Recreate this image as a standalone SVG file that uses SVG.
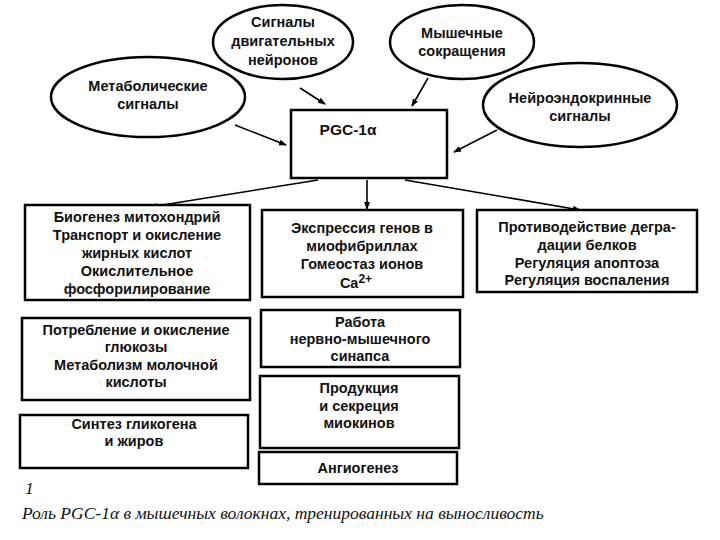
<svg xmlns="http://www.w3.org/2000/svg" width="720" height="540" viewBox="0 0 720 540">
<style>
.s{fill:#fff;stroke:#000;stroke-width:2.5}
.c{stroke:#000;stroke-width:1.6;fill:none;marker-end:url(#a)}
text{font-family:"Liberation Sans",Arial,sans-serif;font-weight:bold;font-size:14.5px;text-anchor:middle;fill:#111}
.cap{font-family:"Liberation Serif","Times New Roman",serif;font-weight:normal;font-style:italic;font-size:17.5px;text-anchor:start}
</style>
<defs><marker id="a" markerWidth="8" markerHeight="8" refX="7" refY="4" orient="auto" markerUnits="userSpaceOnUse"><path d="M0,1 L8,4 L0,7 Z" fill="#000"/></marker></defs>
<rect width="720" height="540" fill="#fff"/>
<g id="connectors">
<line class="c" x1="300" y1="88" x2="325" y2="104"/>
<line class="c" x1="428" y1="78" x2="412" y2="106"/>
<line class="c" x1="235" y1="125" x2="286" y2="145"/>
<line class="c" x1="497" y1="130" x2="454" y2="152"/>
<line class="c" x1="318" y1="180" x2="150" y2="207"/>
<line class="c" x1="367" y1="180" x2="367" y2="209"/>
<line class="c" x1="405" y1="180" x2="580" y2="210"/>
</g>
<g id="e1"><ellipse class="s" cx="283" cy="42" rx="70" ry="37"/><text x="283" y="27">Сигналы</text><text x="283" y="46">двигательных</text><text x="283" y="65">нейронов</text></g>
<g id="e2"><ellipse class="s" cx="462" cy="42" rx="72" ry="37"/><text x="462" y="38">Мышечные</text><text x="462" y="56">сокращения</text></g>
<g id="e3"><ellipse class="s" cx="148" cy="97" rx="97" ry="40"/><text x="148" y="91">Метаболические</text><text x="148" y="109">сигналы</text></g>
<g id="e4"><ellipse class="s" cx="580" cy="105" rx="97" ry="42"/><text x="580" y="103">Нейроэндокринные</text><text x="580" y="121">сигналы</text></g>
<g id="pgc"><rect class="s" x="291" y="110" width="156" height="68"/><text x="348" y="135" style="font-size:15.5px">PGC-1α</text></g>
<g id="b1"><rect class="s" x="25" y="205" width="225" height="95"/><text x="137" y="222">Биогенез митохондрий</text><text x="137" y="240">Транспорт и окисление</text><text x="137" y="258">жирных кислот</text><text x="137" y="276">Окислительное</text><text x="137" y="294">фосфорилирование</text></g>
<g id="b2"><rect class="s" x="22" y="318" width="228" height="82"/><text x="136" y="335">Потребление и окисление</text><text x="136" y="352">глюкозы</text><text x="136" y="370">Метаболизм молочной</text><text x="136" y="387">кислоты</text></g>
<g id="b3"><rect class="s" x="20" y="415" width="228" height="53"/><text x="134" y="429">Синтез гликогена</text><text x="134" y="446">и жиров</text></g>
<g id="m1"><rect class="s" x="262" y="210" width="201" height="87"/><text x="362" y="233">Экспрессия генов в</text><text x="362" y="251">миофибриллах</text><text x="362" y="269">Гомеостаз ионов</text><text x="356" y="288">Ca<tspan font-size="12" dy="-5">2+</tspan></text></g>
<g id="m2"><rect class="s" x="261" y="310" width="199" height="57"/><text x="360" y="327">Работа</text><text x="360" y="344">нервно-мышечного</text><text x="360" y="361">синапса</text></g>
<g id="m3"><rect class="s" x="260" y="376" width="199" height="72"/><text x="359" y="393">Продукция</text><text x="359" y="411">и секреция</text><text x="359" y="428">миокинов</text></g>
<g id="m4"><rect class="s" x="259" y="452" width="198" height="32"/><text x="358" y="473">Ангиогенез</text></g>
<g id="r1"><rect class="s" x="477" y="210" width="220" height="82"/><text x="587" y="232">Противодействие дегра-</text><text x="587" y="250">дации белков</text><text x="587" y="268">Регуляция апоптоза</text><text x="587" y="285">Регуляция воспаления</text></g>
<text class="cap" x="25" y="494">1</text>
<text class="cap" x="22" y="519">Роль PGC-1α в мышечных волокнах, тренированных на выносливость</text>
</svg>
